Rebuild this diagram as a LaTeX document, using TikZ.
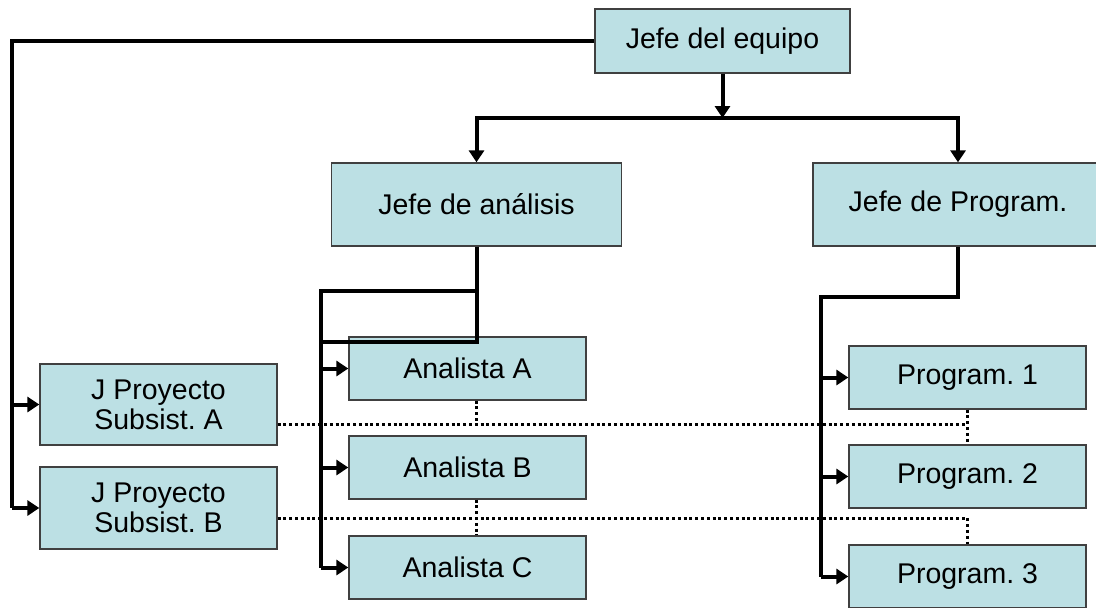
\documentclass[tikz,border=0pt]{standalone}
\usepackage{fontspec}
\setmainfont{Liberation Sans}
\usepackage{tikz}
\usetikzlibrary{arrows.meta,positioning}
\definecolor{boxfill}{RGB}{188,224,228}
\definecolor{boxline}{RGB}{64,64,64}
\tikzstyle{tbox} = [draw=boxline, line width=1.3pt, fill=boxfill, inner sep=0pt, align=center, font=\fontsize{28.5}{30}\selectfont]
\tikzstyle{tline} = [draw, line width=4pt]
\tikzstyle{tarr} = [draw, line width=4pt, -{Triangle[length=12pt,width=15pt]}]
\tikzstyle{tdot} = [draw, line width=3pt, dash pattern=on 3pt off 2.8pt]
\frenchspacing

\begin{document}
\begin{tikzpicture}[x=1pt,y=-1pt]
\useasboundingbox (0,0) rectangle (1096,608);
\node [tbox, minimum width=255, minimum height=64] (equipo) at (722.5,41) {Jefe del equipo};
\node [tbox, minimum width=290, minimum height=83] (analisis) at (476.5,204.5) {Jefe de análisis};
\node [tbox, minimum width=290, minimum height=83] (pjefe) at (958,204.5) {Jefe de Program.};

\node [tbox, minimum width=237, minimum height=81] (jpa) at (158.5,404.5) {J Proyecto\\Subsist. A};
\node [tbox, minimum width=237, minimum height=82] (jpb) at (158.5,508) {J Proyecto\\Subsist. B};

\node [tbox, minimum width=237, minimum height=63] (ana) at (467.5,368.5) {Analista A};
\node [tbox, minimum width=237, minimum height=63] (anb) at (467.5,467.5) {Analista B};
\node [tbox, minimum width=237, minimum height=63] (anc) at (467.5,567.5) {Analista C};

\node [tbox, minimum width=237, minimum height=63] (pg1) at (967.5,377.5) {Program. 1};
\node [tbox, minimum width=237, minimum height=63] (pg2) at (967.5,476.5) {Program. 2};
\node [tbox, minimum width=237, minimum height=63] (pg3) at (967.5,576.5) {Program. 3};

\coordinate (lft) at (12,41);
\coordinate (bar) at (722.5,118);
\coordinate (aa) at (321,291);
\coordinate (ab) at (321,342);
\coordinate (pp) at (821,297);
\coordinate (r1) at (0,424);
\coordinate (r2) at (0,518);

% jefe del equipo
\draw[tline] (equipo.west) -- (lft) -- (lft |- jpb.west);
\draw[tarr] (lft |- jpa.west) -- (jpa.west);
\draw[tarr] (lft |- jpb.west) -- (jpb.west);
\draw[tarr] (equipo.south) -- (bar);
\draw[tarr] (bar) -| (analisis.north);
\draw[tarr] (bar) -| (pjefe.north);

% analisis
\draw[tline] (analisis.south) |- (ab);
\draw[tline] (analisis.south |- aa) -- (aa) -- (aa |- anc.west);
\foreach \n in {ana,anb,anc}
  \draw[tarr] (aa |- \n.west) -- (\n.west);

% programacion
\draw[tline] (pjefe.south) |- (pp) -- (pp |- pg3.west);
\foreach \n in {pg1,pg2,pg3}
  \draw[tarr] (pp |- \n.west) -- (\n.west);

% subsistemas
\draw[tdot] (jpa.east |- r1) -- (pg1.south |- r1);
\draw[tdot] (analisis.south |- ana.south) -- (analisis.south |- r1);
\draw[tdot] (pg1.south) -- (pg2.north);
\draw[tdot] (jpb.east |- r2) -- (pg3.north |- r2) -- (pg3.north);
\draw[tdot] (analisis.south |- anb.south) -- (analisis.south |- anc.north);
\end{tikzpicture}
\end{document}
